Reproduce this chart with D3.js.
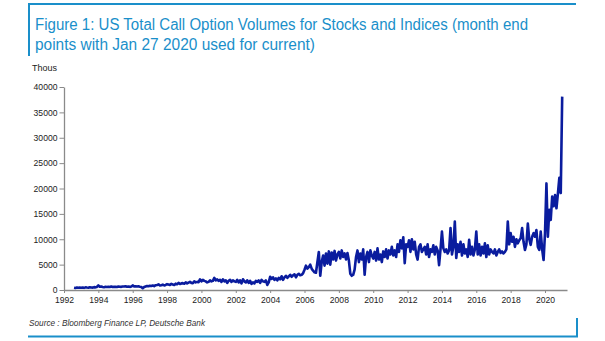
<!DOCTYPE html>
<html>
<head>
<meta charset="utf-8">
<script src="https://cdn.jsdelivr.net/npm/d3@7"></script>
<style>
    body { margin: 0; background: #fff; }
    svg { display: block; font-family: "Liberation Sans", Arial, sans-serif; }
    .axis path, .axis line { stroke: #8a8a8a; }
    .axis text { fill: #222; font-size: 8.6px; }
</style>
</head>
<body>
<svg id="chart" width="605" height="341"></svg>
<script>
// Month-end call option volumes (thousands), Aug 1992 .. Jan 2021
const startYear = 1992;
const startMonth = 7; // August
const callVolumes = [
    450, 400, 480, 430, 470,                                             // 1992
    450, 500, 420, 520, 480, 450, 550, 500, 470, 560, 520, 600,          // 1993
    900, 650, 700, 600, 550, 620, 580, 650, 600, 700, 580, 620,          // 1994
    640, 600, 700, 650, 620, 700, 680, 750, 650, 700, 620, 680,          // 1995
    900, 700, 750, 680, 720, 650, 600, 350, 600, 700, 800, 750,          // 1996
    850, 800, 900, 750, 950, 1000, 1100, 900, 950, 1050, 900, 1000,      // 1997
    1150, 1100, 1000, 1200, 1100, 1000, 1250, 1150, 1400, 1200, 1300, 1350, // 1998
    1250, 1500, 1300, 1450, 1600, 1400, 1350, 1700, 1500, 1600, 1550, 2100, // 1999
    1700, 2000, 1800, 1700, 1500, 1600, 1900, 1700, 1800, 2400, 1900, 2100, // 2000
    1800, 2000, 1600, 2100, 1700, 1900, 1400, 1800, 2000, 1600, 1900, 1700, // 2001
    1600, 2000, 1500, 1900, 1300, 2100, 1700, 1500, 1900, 1400, 1800, 1200, // 2002
    1500, 1300, 1800, 1600, 1900, 1400, 2000, 1700, 1600, 1900, 1000, 1500, // 2003
    2600, 2200, 2500, 2000, 2300, 1900, 2400, 2100, 2700, 2000, 2500, 2800, // 2004
    2400, 2700, 3000, 2600, 2900, 3100, 2500, 3000, 3200, 2900, 3000, 3300, // 2005
    4000, 4800, 4200, 4500, 5000, 4200, 3800, 3500, 3400, 5500, 7500, 2800, // 2006
    5500, 6800, 4800, 7200, 5200, 7600, 5000, 7400, 6000, 7700, 5800, 7000, // 2007
    7500, 6200, 7800, 6500, 7200, 6000, 7300, 5800, 3200, 2800, 3000, 4000, // 2008
    6500, 7800, 5500, 7200, 6000, 8000, 3000, 6500, 7500, 5500, 7800, 6800, // 2009
    6200, 7500, 5800, 8200, 6000, 7000, 5500, 7600, 6500, 8000, 6200, 7800, // 2010
    7000, 8500, 6800, 7800, 6500, 9000, 7500, 9800, 8200, 10400, 5300, 9000, // 2011
    8500, 9800, 7500, 10000, 8000, 9500, 7000, 6000, 8500, 9000, 7500, 8000, // 2012
    8500, 7000, 9000, 6500, 8000, 7500, 8800, 7000, 8500, 7800, 4900, 8000, // 2013
    11500, 8200, 7500, 8000, 7200, 7800, 12200, 7000, 8500, 13500, 6300, 9000, // 2014
    7500, 9500, 6800, 9000, 7200, 8000, 6500, 9900, 7000, 8500, 6800, 8000, // 2015
    11500, 7000, 9000, 6800, 8500, 7200, 9200, 6500, 8800, 7000, 8000, 7500, // 2016
    7200, 8000, 6800, 7500, 8000, 7300, 7600, 7200, 7500, 8000, 13500, 9000, // 2017
    11200, 9500, 10500, 8500, 10000, 9200, 9800, 10200, 12200, 9500, 7900, 9000, // 2018
    13100, 10000, 8900, 10500, 11200, 10500, 11800, 8500, 7900, 11500, 8000, 5900, // 2019
    11200, 21000, 10500, 15800, 13800, 18400, 16500, 18700, 16100, 19000, 22100, 19100, // 2020
    38100                                                                // 2021
];

const yTicks = [0, 5000, 10000, 15000, 20000, 25000, 30000, 35000, 40000];
const xTickYears = [1992, 1994, 1996, 1998, 2000, 2002, 2004, 2006, 2008, 2010, 2012, 2014, 2016, 2018, 2020];

const titleLines = [
    "Figure 1: US Total Call Option Volumes for Stocks and Indices (month end",
    "points with Jan 27 2020 used for current)"
];
const titleWidths = [493, 280];
const unitLabel = "Thous";
const sourceText = "Source : Bloomberg Finance LP, Deutsche Bank";

const frameColor = "#1a8fca";
const lineColor = "#0a1c9e";

function drawChart() {
    const svg = d3.select("#chart");

    // frame: top rule with a short left bar, bottom rule with a short right bar
    svg.append("line").attr("x1", 28).attr("x2", 576).attr("y1", 4).attr("y2", 4)
        .attr("stroke", frameColor).attr("stroke-width", 2);
    svg.append("line").attr("x1", 29).attr("x2", 29).attr("y1", 3).attr("y2", 56)
        .attr("stroke", frameColor).attr("stroke-width", 2);
    svg.append("line").attr("x1", 28).attr("x2", 578).attr("y1", 336.5).attr("y2", 336.5)
        .attr("stroke", frameColor).attr("stroke-width", 2.2);
    svg.append("line").attr("x1", 577).attr("x2", 577).attr("y1", 318).attr("y2", 337)
        .attr("stroke", frameColor).attr("stroke-width", 2);

    // title, squeezed a little to the condensed house font width
    svg.append("g").selectAll("text")
        .data(titleLines)
        .enter().append("text")
        .attr("x", 35)
        .attr("y", (d, i) => 30 + i * 20)
        .attr("fill", frameColor)
        .attr("textLength", (d, i) => titleWidths[i])
        .attr("lengthAdjust", "spacingAndGlyphs")
        .style("font-size", "16px")
        .text(d => d);

    const x = d3.scaleLinear().domain([1992, 2021.28]).range([64, 567]);
    const y = d3.scaleLinear().domain([0, 40000]).range([290, 87]);

    const yAxis = d3.axisLeft(y)
        .tickValues(yTicks)
        .tickFormat(d3.format("d"))
        .tickSize(4.5)
        .tickSizeOuter(0)
        .tickPadding(2);

    const xAxis = d3.axisBottom(x)
        .tickValues(xTickYears)
        .tickFormat(d3.format("d"))
        .tickSize(3)
        .tickSizeOuter(0)
        .tickPadding(3.5);

    svg.append("g").attr("class", "axis")
        .attr("transform", "translate(64,0)")
        .call(yAxis);

    svg.append("g").attr("class", "axis")
        .attr("transform", "translate(0,290)")
        .call(xAxis);

    svg.selectAll(".axis path").attr("stroke-width", 1.3);

    svg.append("text")
        .attr("x", 32).attr("y", 71)
        .attr("fill", "#222")
        .style("font-size", "9px")
        .text(unitLabel);

    // monthly series
    const points = callVolumes.map((v, i) => ({
        date: startYear + (startMonth + i) / 12,
        value: v
    }));

    const line = d3.line()
        .x(d => x(d.date))
        .y(d => y(d.value));

    svg.append("path")
        .datum(points)
        .attr("fill", "none")
        .attr("stroke", lineColor)
        .attr("stroke-width", 2.6)
        .attr("stroke-linejoin", "round")
        .attr("d", line);

    // source note
    svg.append("text")
        .attr("x", 29).attr("y", 326)
        .attr("fill", "#333")
        .attr("textLength", 176)
        .attr("lengthAdjust", "spacingAndGlyphs")
        .style("font-size", "9px")
        .style("font-style", "italic")
        .text(sourceText);
}

document.addEventListener('DOMContentLoaded', drawChart);
</script>
</body>
</html>
